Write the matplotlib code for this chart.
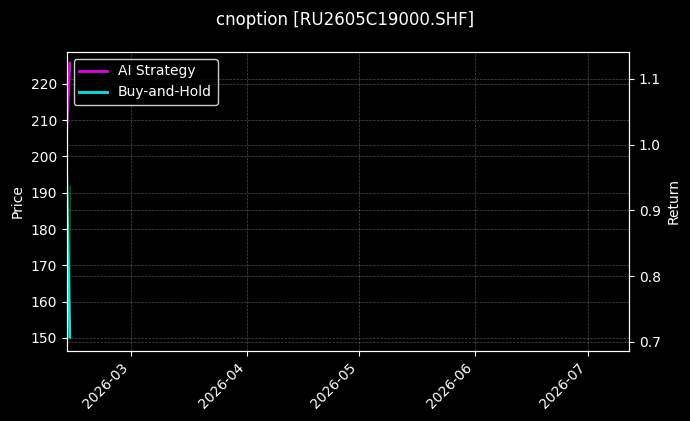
import datetime

import matplotlib
matplotlib.use("Agg")
import matplotlib.pyplot as plt
import matplotlib.dates as mdates

# data (only the first day or so has values)
strategy_dates = [datetime.datetime(2026, 2, 11, 18), datetime.datetime(2026, 2, 12, 18)]
ai_strategy = [1.0, 1.124]
buy_and_hold = [1.0, 0.707]

price_dates = [datetime.datetime(2026, 2, 12, 21), datetime.datetime(2026, 2, 12, 17)]
price = [191.7, 150.1]

x_start = datetime.datetime(2026, 2, 11, 22)
x_end = datetime.datetime(2026, 7, 12, 2)

plt.style.use('dark_background')
fig = plt.figure(figsize=(6.9, 4.21), dpi=100)
ax1 = fig.add_axes([0.0967, 0.1663, 0.8149, 0.7102])
ax2 = ax1.twinx()

ax1.plot(price_dates, price, color='green', linewidth=1, alpha=0.8)
ax1.set_ylabel('Price')
ax1.set_ylim(146.4, 228.8)
ax1.grid(True, linestyle='--', linewidth=0.5, alpha=0.3)

ax2.plot(strategy_dates, ai_strategy, color='magenta', linewidth=2, alpha=0.9, label='AI Strategy')
ax2.plot(strategy_dates, buy_and_hold, color='cyan', linewidth=2, alpha=0.9, label='Buy-and-Hold')
ax2.set_ylabel('Return')
ax2.set_ylim(0.686, 1.141)
ax2.grid(True, linestyle='--', linewidth=0.5, alpha=0.3)

ax1.set_xlim(x_start, x_end)
ax1.xaxis.set_major_locator(mdates.MonthLocator())
ax1.xaxis.set_major_formatter(mdates.DateFormatter('%Y-%m'))
plt.setp(ax1.get_xticklabels(), rotation=45, ha='right')

ax2.legend(loc='upper left', facecolor='black', edgecolor='white')
fig.suptitle('cnoption [RU2605C19000.SHF]', fontsize=12, y=0.975)

plt.savefig('out.png', dpi=100)
